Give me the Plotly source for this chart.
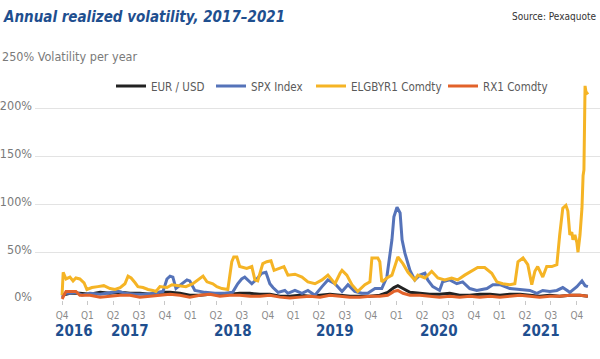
import plotly.graph_objects as go

FONT = "DejaVu Sans Condensed, Roboto, sans-serif"

# ---------------- data ----------------
elg_dates = ["2016-12-31","2017-01-04","2017-01-14","2017-01-28","2017-02-08","2017-02-18","2017-03-04","2017-03-19","2017-03-29",
             "2017-04-16","2017-05-07","2017-05-28","2017-06-19","2017-07-07","2017-07-25","2017-08-11","2017-08-22","2017-09-02",
             "2017-09-16","2017-09-26","2017-10-14","2017-11-01","2017-11-18","2017-11-29","2017-12-13","2018-01-07","2018-01-25",
             "2018-02-22","2018-03-15","2018-04-09","2018-05-04","2018-05-15","2018-05-29","2018-06-19","2018-07-03","2018-07-21",
             "2018-08-11","2018-08-25","2018-09-01","2018-09-12","2018-09-22","2018-10-17","2018-11-04","2018-11-15","2018-11-25",
             "2018-12-13","2018-12-27","2019-01-11","2019-01-22","2019-02-12","2019-02-26","2019-03-12","2019-04-06","2019-05-01",
             "2019-05-22","2019-06-16","2019-07-11","2019-08-01","2019-08-26","2019-09-13","2019-09-20","2019-10-07","2019-10-25",
             "2019-11-15","2019-12-10","2019-12-28","2020-01-04","2020-01-25","2020-02-01","2020-02-08","2020-02-26","2020-03-15",
             "2020-04-05","2020-04-23","2020-05-11","2020-06-04","2020-06-15","2020-07-10","2020-08-03","2020-08-25","2020-09-18",
             "2020-10-13","2020-11-03","2020-11-28","2020-12-23","2021-01-13","2021-02-07","2021-03-04","2021-03-22","2021-04-12",
             "2021-05-07","2021-05-25","2021-06-05","2021-06-23","2021-07-10","2021-07-24","2021-08-04","2021-08-14","2021-09-01",
             "2021-09-15","2021-10-03","2021-10-21","2021-10-31","2021-11-11","2021-11-22","2021-11-29","2021-12-06","2021-12-13",
             "2021-12-17","2021-12-24","2021-12-31","2022-01-04","2022-01-11","2022-01-18","2022-01-22","2022-01-25","2022-01-29",
             "2022-02-01","2022-02-08"]
elg_vals = [5,29,22,24,20,23,22,18,11,
            13,14,15,12,11,13,17,25,23,
            18,14,13,11,10,9,14,13,16,
            15,14,17,23,25,19,17,14,12,
            11,40,45,45,35,33,35,21,20,
            38,40,41,31,33,35,26,27,24,
            19,17,21,26,17,28,31,26,16,
            9,16,19,44,44,40,19,23,26,
            45,38,29,21,26,23,30,23,21,
            23,21,26,30,34,34,28,19,17,
            16,17,40,44,37,16,30,35,24,
            35,35,37,68,96,99,93,68,71,
            63,68,60,50,68,96,130,136,224,
            218,215]

spx_dates = ["2016-12-31","2017-01-11","2017-01-28","2017-02-18","2017-03-12","2017-04-09","2017-05-15","2017-06-19","2017-07-18",
             "2017-08-11","2017-09-16","2017-10-22","2017-11-25","2017-12-24","2018-01-07","2018-01-18","2018-01-28","2018-02-08",
             "2018-03-01","2018-03-19","2018-03-29","2018-04-16","2018-05-22","2018-06-26","2018-07-31","2018-08-28","2018-09-15",
             "2018-09-29","2018-10-10","2018-10-24","2018-11-04","2018-11-22","2018-12-09","2018-12-24","2019-01-07","2019-01-18",
             "2019-02-05","2019-03-01","2019-03-12","2019-04-06","2019-05-01","2019-05-22","2019-06-16","2019-07-11","2019-08-01",
             "2019-08-26","2019-09-20","2019-10-11","2019-11-04","2019-11-29","2019-12-20","2020-01-15","2020-02-08","2020-02-26",
             "2020-03-08","2020-03-15","2020-03-22","2020-04-02","2020-04-13","2020-04-20","2020-04-30","2020-05-18","2020-06-04",
             "2020-06-22","2020-07-10","2020-07-20","2020-08-07","2020-08-31","2020-09-11","2020-10-06","2020-10-31","2020-11-21",
             "2020-12-16","2021-01-10","2021-02-15","2021-03-08","2021-04-02","2021-05-07","2021-06-12","2021-07-17","2021-08-11",
             "2021-09-01","2021-09-26","2021-10-21","2021-11-11","2021-12-06","2021-12-31","2022-01-18","2022-01-29","2022-02-08"]
spx_vals = [3,7,7,8,5,7,6,8,9,
            7,6,6,7,9,22,25,24,12,
            17,21,20,10,8,7,7,8,17,
            22,24,20,17,22,28,29,17,13,
            8,10,7,10,7,10,5,14,21,
            17,9,16,9,7,7,12,12,24,
            47,63,87,97,91,63,49,31,21,
            26,28,21,14,10,19,21,17,19,
            12,10,12,16,16,12,11,10,7,
            10,9,10,13,8,14,20,15,14]

grid_dates = ["2016-12-31","2017-01-14","2017-01-28","2017-02-18","2017-03-04","2017-04-09","2017-05-15","2017-06-19","2017-07-25",
              "2017-08-29","2017-10-03","2017-11-08","2017-12-13","2018-01-18","2018-02-22","2018-03-29","2018-05-04","2018-06-08",
              "2018-07-14","2018-08-18","2018-09-22","2018-10-28","2018-12-03","2019-01-07","2019-02-12","2019-03-19","2019-04-24",
              "2019-05-29","2019-07-04","2019-08-08","2019-09-13","2019-10-18","2019-11-22","2019-12-28","2020-02-01","2020-02-29",
              "2020-03-22","2020-04-05","2020-04-23","2020-05-18","2020-06-22","2020-07-27","2020-08-31","2020-10-06","2020-11-10",
              "2020-12-16","2021-01-21","2021-02-26","2021-04-02","2021-05-07","2021-06-12","2021-07-17","2021-08-21","2021-09-26",
              "2021-10-31","2021-12-06","2022-01-11","2022-02-08"]
eur_vals = [5,6,7,7,7,6,8,7,8,
            7,7,6,8,8,7,5,5,6,
            6,6,7,7,6,6,4,4,5,
            4,5,6,5,4,4,4,5,8,
            13,15,12,8,7,6,6,7,5,
            5,6,6,5,6,6,5,4,5,
            4,5,5,4]
rx1_vals = [1,9,9,9,5,5,3,4,5,
            5,3,4,5,6,5,3,5,6,
            4,5,5,4,4,5,3,2,3,
            4,3,5,4,3,3,4,4,5,
            9,10,7,5,5,4,3,4,3,
            4,3,4,3,4,5,4,3,4,
            4,5,5,4]

q_ticks = ["2016-12-31","2017-03-31","2017-06-30","2017-09-30","2017-12-31","2018-03-31","2018-06-30","2018-09-30",
           "2018-12-31","2019-03-31","2019-06-30","2019-09-30","2019-12-31","2020-03-31","2020-06-30","2020-09-30",
           "2020-12-31","2021-03-31","2021-06-30","2021-09-30","2021-12-31"]
q_labels = ["Q4","Q1","Q2","Q3","Q4","Q1","Q2","Q3","Q4","Q1","Q2","Q3","Q4","Q1","Q2","Q3","Q4","Q1","Q2","Q3","Q4"]
year_labels = ["2016","2017","2018","2019","2020","2021"]
year_pos = ["2017-02-12","2017-08-29","2018-08-29","2019-08-26","2020-08-29","2021-08-26"]
y_ticks = [0,50,100,150,200,250]
y_labels = ["0%","50%","100%","150%","200%",""]

# ---------------- figure ----------------
series = [
    ("EUR / USD", grid_dates, eur_vals, "#222222", "legend"),
    ("SPX Index", spx_dates, spx_vals, "#5573b9", "legend2"),
    ("ELGBYR1 Comdty", elg_dates, elg_vals, "#f5b425", "legend3"),
    ("RX1 Comdty", grid_dates, rx1_vals, "#e2622a", "legend4"),
]
fig = go.Figure()
for name, d, v, c, lg in series:
    fig.add_trace(go.Scatter(x=d, y=v, name=name, mode="lines",
                             line=dict(color=c, width=3), legend=lg))

def pxx(px):
    return (px - 35) / 565.0

def pxy(py):
    return (300 - py) / 239.0

leg_common = dict(orientation="h", yanchor="middle", y=pxy(86), xanchor="left",
                  font=dict(family=FONT, size=11.5, color="#5a5a5a"), bgcolor="rgba(0,0,0,0)",
                  itemwidth=30, borderwidth=0)
text_starts = [153, 253, 353, 485]
legs = {}
for key, ts in zip(["legend", "legend2", "legend3", "legend4"], text_starts):
    legs[key] = dict(leg_common, x=pxx(ts - 42))

fig.update_layout(
    width=600, height=359,
    margin=dict(l=35, r=0, t=61, b=59, autoexpand=False),
    plot_bgcolor="white", paper_bgcolor="white",
    showlegend=True,
    **legs,
    xaxis=dict(type="date", range=["2016-09-26", "2022-03-23"], tickvals=q_ticks, ticktext=q_labels,
               showgrid=False, zeroline=False, showline=False, ticks="outside", ticklen=4, tickcolor="#c8c8c8",
               tickfont=dict(family=FONT, size=10, color="#8a8a8a"), ticklabelstandoff=2, automargin=False),
    yaxis=dict(range=[0, 250], tickvals=y_ticks, ticktext=y_labels, showgrid=True, gridcolor="#e3e3e3",
               gridwidth=1, zeroline=False, showline=False, ticks="", automargin=False,
               tickfont=dict(family=FONT, size=12.5, color="#7a7a7a"), ticklabelstandoff=2,
               ticklabelshift=-3),
    annotations=[
        dict(text="Annual realized volatility, 2017\u20132021", xref="paper", yref="paper",
             x=pxx(1), y=pxy(17), xanchor="left", yanchor="middle", showarrow=False,
             font=dict(family=FONT, size=15, color="#1f4f8f", weight="bold", style="italic")),
        dict(text="Source: Pexaquote", xref="paper", yref="paper", x=pxx(598), y=pxy(17),
             xanchor="right", yanchor="middle", showarrow=False,
             font=dict(family=FONT, size=10, color="#333333")),
        dict(text="250% Volatility per year", xref="paper", yref="y", x=pxx(0), y=250, yshift=5,
             xanchor="left", yanchor="middle", showarrow=False, bgcolor="white",
             font=dict(family=FONT, size=12.5, color="#7a7a7a")),
    ] + [
        dict(text=t, xref="x", yref="paper", x=p, y=pxy(331), xanchor="center", yanchor="middle",
             showarrow=False, font=dict(family=FONT, size=15, color="#1f4f8f", weight="bold"))
        for t, p in zip(year_labels, year_pos)
    ],
)

fig.write_html("out.html", config={"displayModeBar": False},
               post_script="document.body.style.margin='0';document.body.style.padding='0';")
